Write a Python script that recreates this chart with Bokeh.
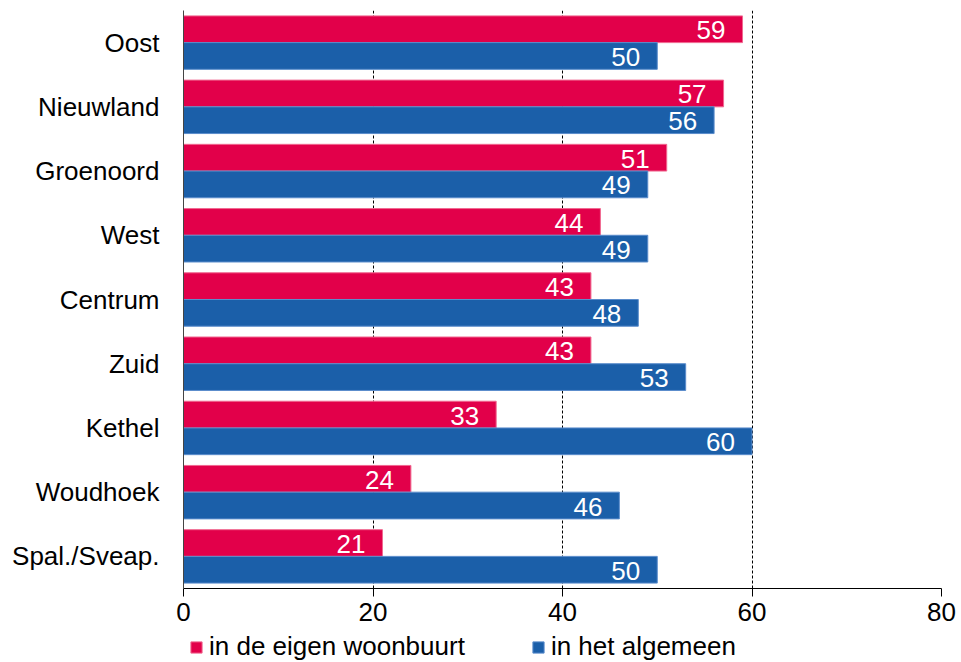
from bokeh.plotting import figure
from bokeh.models import ColumnDataSource, FactorRange, Range1d, Legend, LegendItem, FixedTicker
from bokeh.layouts import column
from bokeh.transform import dodge
from bokeh.core.properties import value
from bokeh.embed import file_html
from bokeh.resources import INLINE

categories = ["Oost", "Nieuwland", "Groenoord", "West", "Centrum", "Zuid", "Kethel", "Woudhoek", "Spal./Sveap."]
eigen_woonbuurt = [59, 57, 51, 44, 43, 43, 33, 24, 21]
algemeen = [50, 56, 49, 49, 48, 53, 60, 46, 50]
x_ticks = [0, 20, 40, 60, 80]
series_names = ["in de eigen woonbuurt", "in het algemeen"]

RED = "#E2004A"
BLUE = "#1B5FA9"
RED_EDGE = "#F06890"
BLUE_EDGE = "#5A8CCB"
FONT = "Liberation Sans"
FS = "26px"

src = ColumnDataSource(dict(
    cat=categories,
    red=eigen_woonbuurt,
    blue=algemeen,
    red_t=[str(v) for v in eigen_woonbuurt],
    blue_t=[str(v) for v in algemeen],
))

p = figure(width=961, height=632, output_backend="svg", toolbar_location=None,
           y_range=FactorRange(factors=list(reversed(categories)), range_padding=0),
           x_range=Range1d(0, 80),
           min_border_left=183, min_border_right=20, min_border_top=10, min_border_bottom=44)

p.hbar(y=dodge("cat", 0.208, range=p.y_range), right="red", left=0, height=0.416,
       source=src, fill_color=RED, line_color=RED_EDGE, line_width=1)
p.hbar(y=dodge("cat", -0.208, range=p.y_range), right="blue", left=0, height=0.416,
       source=src, fill_color=BLUE, line_color=BLUE_EDGE, line_width=1)

p.text(x="red", y=dodge("cat", 0.208, range=p.y_range), text="red_t", source=src,
       text_color="white", text_align="right", text_baseline="middle", x_offset=-17, y_offset=1,
       text_font=value(FONT), text_font_size=FS)
p.text(x="blue", y=dodge("cat", -0.208, range=p.y_range), text="blue_t", source=src,
       text_color="white", text_align="right", text_baseline="middle", x_offset=-17, y_offset=1,
       text_font=value(FONT), text_font_size=FS)

p.outline_line_color = None
p.ygrid.grid_line_color = None
p.xgrid.grid_line_color = "black"
p.xgrid.grid_line_dash = "3 2"
p.xgrid.grid_line_width = 1
p.xgrid.ticker = FixedTicker(ticks=x_ticks)

p.xaxis.ticker = FixedTicker(ticks=x_ticks)
p.xaxis.axis_line_color = "black"
p.xaxis.axis_line_width = 1
p.xaxis.major_tick_in = 0
p.xaxis.major_tick_out = 8
p.xaxis.major_tick_line_color = "black"
p.xaxis.minor_tick_line_color = None
p.xaxis.major_label_text_font = FONT
p.xaxis.major_label_text_font_size = FS
p.xaxis.major_label_text_color = "black"
p.xaxis.major_label_standoff = 6

p.yaxis.axis_line_color = "#444444"
p.yaxis.major_tick_line_color = None
p.yaxis.major_tick_out = 0
p.yaxis.major_tick_in = 0
p.yaxis.minor_tick_line_color = None
p.yaxis.major_label_text_font = FONT
p.yaxis.major_label_text_font_size = FS
p.yaxis.major_label_text_color = "black"
p.yaxis.major_label_standoff = 24

# legend strip below the chart (its frame aligns with the chart frame)
lf = figure(width=961, height=30, output_backend="svg", toolbar_location=None,
            x_range=Range1d(0, 1), y_range=Range1d(0, 1),
            x_axis_location=None, y_axis_location=None,
            min_border_left=0, min_border_right=0, min_border_top=0, min_border_bottom=0)
lf.outline_line_color = None
lf.grid.visible = False
# placeholder renderers, kept outside the visible range; only their legend swatches show
d1 = lf.hbar(y=[-10], right=[1], left=0, height=0.4, fill_color=RED, line_color=RED_EDGE)
d2 = lf.hbar(y=[-10], right=[1], left=0, height=0.4, fill_color=BLUE, line_color=BLUE_EDGE)
legend = Legend(items=[LegendItem(label=series_names[0], renderers=[d1]),
                       LegendItem(label=series_names[1], renderers=[d2])],
                orientation="horizontal", location=(6, 0),
                glyph_width=14, glyph_height=14, spacing=66, padding=0, margin=0,
                label_standoff=6, label_height=14, label_text_font=FONT, label_text_font_size=FS,
                label_text_color="black", border_line_color=None, background_fill_alpha=0)
lf.add_layout(legend, "center")

layout = column(p, lf, spacing=0)
open("out.html", "w").write(file_html(layout, INLINE))
